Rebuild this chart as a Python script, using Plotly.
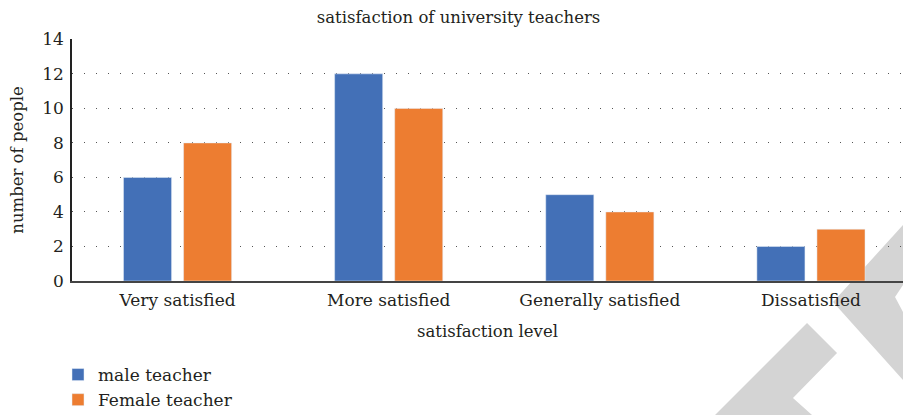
import plotly.graph_objects as go

categories = ["Very satisfied", "More satisfied", "Generally satisfied", "Dissatisfied"]
male_values = [6, 12, 5, 2]
female_values = [8, 10, 4, 3]
series_names = ["male teacher", "Female teacher"]
y_ticks = [0, 2, 4, 6, 8, 10, 12, 14]

FONT = "DejaVu Serif"
COL = "#231f20"
W, H = 903, 415
L, R, T, B = 72, 0, 39, 134
pw, ph = W - L - R, H - T - B

def fnt(size=17):
    return dict(family=FONT, size=size, color=COL)

def px(x):
    return (x - L) / pw

def py(y):
    return (H - B - y) / ph

def path(points):
    s = "M " + " L ".join(f"{px(x):.4f},{py(y):.4f}" for x, y in points) + " Z"
    return s

fig = go.Figure()
fig.add_trace(go.Bar(x=categories, y=male_values, name=series_names[0], marker_color="#4370b7"))
fig.add_trace(go.Bar(x=categories, y=female_values, name=series_names[1], marker_color="#ed7d31"))

shapes = [
    dict(type="path", xref="paper", yref="paper", layer="below", line_width=0, fillcolor="#d4d4d4",
         path=path([(715, 415), (807, 323), (837, 353), (793, 398), (812, 415)])),
    dict(type="path", xref="paper", yref="paper", layer="below", line_width=0, fillcolor="#d4d4d4",
         path=path([(903, 225), (833, 302), (903, 380), (903, 312), (895, 297), (903, 285)])),
]

fig.update_layout(
    width=W, height=H,
    margin=dict(l=L, r=R, t=T, b=B, autoexpand=False),
    paper_bgcolor="white", plot_bgcolor="rgba(0,0,0,0)",
    font=fnt(),
    title=dict(text="satisfaction of university teachers", x=px(494), xanchor="center",
               y=1 - 17 / H, yanchor="middle", font=fnt(16.5)),
    barmode="group", bargap=0.431, bargroupgap=0.2,
    legend=dict(orientation="v", x=px(58), xanchor="left", y=py(357), yanchor="top",
                font=fnt(17), bgcolor="rgba(0,0,0,0)", tracegroupgap=0),
    shapes=shapes,
    xaxis=dict(range=[-0.5, 3 + (903 - 811) / 211], showline=True, linecolor="#444", linewidth=1.5,
               ticks="", showgrid=False, fixedrange=True, automargin=False, tickfont=fnt(17),
               ticklabelstandoff=3,
               title=dict(text="satisfaction level", standoff=16, font=fnt(16.5))),
    yaxis=dict(range=[0, 14.02], tickvals=y_ticks, showline=True, linecolor="#222", linewidth=1.5,
               showgrid=True, gridcolor="#555", griddash="1px,11px", gridwidth=1,
               zeroline=False, ticks="", ticklen=0, automargin=False, tickfont=fnt(17),
               ticklabelstandoff=3,
               title=dict(text="number of people", standoff=14, font=fnt(16.5))),
)

fig.write_html("out.html")
